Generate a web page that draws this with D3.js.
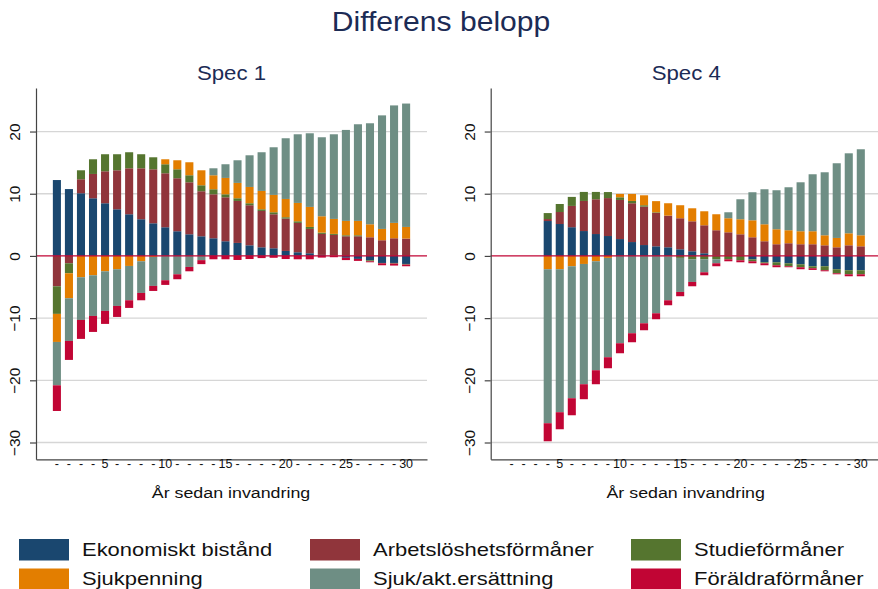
<!DOCTYPE html>
<html>
<head>
<meta charset="utf-8">
<script src="https://cdn.jsdelivr.net/npm/d3@7/dist/d3.min.js"></script>
<style>
  html, body { margin: 0; padding: 0; background: #fff; }
  svg { display: block; font-family: "Liberation Sans", Arial, sans-serif; }
</style>
</head>
<body>
<svg id="chart" width="878" height="589"></svg>
<script>
// Years since immigration, 1..30
const years = d3.range(1, 31);

const seriesNames = [
  "Ekonomiskt bistånd",
  "Arbetslöshetsförmåner",
  "Studieförmåner",
  "Sjukpenning",
  "Sjuk/akt.ersättning",
  "Föräldraförmåner"
];
const seriesColors = ["#1a476f", "#90353b", "#55752f", "#e37e00", "#6e8e84", "#c10534"];

// Spec 1 — difference in amounts per benefit type
const spec1Ekonomiskt = [12.2, 10.75, 10.08, 9.27, 8.47, 7.5, 6.7, 5.9, 5.25, 4.61, 3.97, 3.48, 3.16, 2.84, 2.36, 2.09, 1.71, 1.39, 1.23, 0.8, 0.59, 0.43, 0.16, 0.05, -0.3, -0.48, -0.7, -1.13, -1.13, -1.29];
const spec1Arbetsloshet = [-4.88, -1.18, 2.25, 3.91, 5.14, 6.27, 7.39, 8.19, 8.68, 8.68, 8.52, 8.36, 7.24, 7.07, 7.07, 6.75, 6.44, 5.84, 5.47, 5.2, 4.72, 3.91, 3.38, 3.33, 3.16, 3.16, 3.0, 2.52, 2.84, 2.79];
const spec1Studie = [-4.44, -1.61, 1.44, 2.36, 2.74, 2.58, 2.58, 2.26, 1.93, 1.45, 1.44, 1.13, 0.96, 0.81, 0.48, 0.43, 0.32, 0.27, 0.32, 0.22, 0.26, 0.32, 0.21, 0.16, 0.16, 0.16, -0.16, -0.05, -0.1, -0.1];
const spec1Sjukpenning = [-4.51, -4.02, -3.43, -3.11, -2.47, -2.14, -1.61, -0.86, -0.16, 0.8, 1.45, 2.09, 2.41, 2.25, 2.63, 2.47, 2.62, 2.95, 2.79, 2.94, 2.95, 3.22, 2.63, 2.41, 2.31, 2.31, 2.09, 1.82, 2.47, 1.87];
const spec1SjukAkt = [-6.97, -6.86, -6.86, -6.54, -6.37, -5.9, -5.52, -5.09, -4.66, -3.91, -2.95, -1.77, -0.68, 1.12, 2.2, 3.64, 5.09, 6.22, 7.66, 9.76, 11.04, 11.84, 12.7, 13.61, 14.63, 15.54, 16.24, 18.26, 18.89, 19.84];
const spec1Foraldra = [-4.13, -3.05, -3.05, -2.57, -2.09, -1.77, -1.23, -1.18, -0.81, -0.75, -0.8, -0.7, -0.64, -0.54, -0.54, -0.65, -0.5, -0.35, -0.3, -0.5, -0.54, -0.54, -0.27, -0.21, -0.37, -0.32, -0.16, -0.32, -0.32, -0.27];

// Spec 4 — no estimates for years 1–3
const spec4Ekonomiskt = [null, null, null, 5.61, 5.13, 4.62, 4.0, 3.52, 3.2, 2.71, 2.23, 1.75, 1.55, 1.39, 1.07, 0.75, 0.43, 0.1, 0, 0, -0.54, -1.02, -1.02, -1.18, -1.34, -1.66, -1.66, -2.14, -2.3, -2.3];
const spec4Arbetsloshet = [null, null, null, 0.32, 1.93, 3.42, 4.84, 5.59, 6.1, 6.29, 6.24, 6.18, 5.36, 5.09, 4.99, 4.82, 4.5, 4.03, 3.8, 3.48, 3.0, 2.36, 1.88, 2.04, 1.88, 1.88, 1.71, 1.39, 1.71, 1.55];
const spec4Studie = [null, null, null, 0.96, 1.29, 1.45, 1.45, 1.18, 0.97, 0.43, 0.37, 0.22, 0.1, -0.1, -0.32, -0.54, -0.54, -0.54, -0.54, -0.7, -0.32, -0.16, -0.48, -0.48, -0.48, -0.32, -0.64, -0.65, -0.65, -0.65];
const spec4Sjukpenning = [null, null, null, -2.14, -2.14, -1.66, -1.29, -0.86, -0.32, 0.54, 1.13, 1.6, 1.8, 1.99, 2.09, 2.09, 2.25, 2.57, 2.26, 2.42, 2.73, 2.73, 2.41, 2.09, 2.09, 2.09, 1.61, 1.5, 1.93, 1.77];
const spec4SjukAkt = [null, null, null, -24.76, -22.99, -21.22, -19.34, -17.52, -15.97, -14.04, -12.43, -10.83, -9.22, -7.03, -5.47, -3.64, -2.09, -0.64, 0.96, 3.21, 4.51, 5.63, 6.27, 6.91, 7.87, 9.16, 10.13, 12.01, 12.86, 13.83];
const spec4Foraldra = [null, null, null, -2.9, -2.74, -2.74, -2.41, -2.25, -1.77, -1.61, -1.45, -1.12, -0.96, -0.8, -0.69, -0.7, -0.48, -0.48, -0.32, -0.32, -0.32, -0.32, -0.32, -0.16, -0.32, -0.27, -0.17, -0.16, -0.32, -0.32];

const yTicks = [-30, -20, -10, 0, 10, 20];

const panels = [
  { title: "Spec 1", left: 36, series: [spec1Ekonomiskt, spec1Arbetsloshet, spec1Studie, spec1Sjukpenning, spec1SjukAkt, spec1Foraldra] },
  { title: "Spec 4", left: 490.7, series: [spec4Ekonomiskt, spec4Arbetsloshet, spec4Studie, spec4Sjukpenning, spec4SjukAkt, spec4Foraldra] }
];

const svg = d3.select("#chart");
const navy = "#1c2b55";
const plotW = 391, plotTop = 88, plotBottom = 459.3;

// the text face is drawn slightly wide
svg.append("text")
  .attr("transform", "translate(441,31) scale(1.075,1)")
  .attr("text-anchor", "middle")
  .attr("font-size", 28)
  .attr("fill", navy)
  .text("Differens belopp");

const y = d3.scaleLinear().domain([-32.7, 27]).range([plotBottom, plotTop]);

panels.forEach(p => {
  const g = svg.append("g");
  const x = d3.scaleBand()
    .domain(years)
    .range([p.left, p.left + plotW])
    .paddingInner(0.33)
    .paddingOuter(1.4);

  // one row per year, one column per benefit type
  const rows = years.map((yr, i) => {
    const r = { year: yr };
    seriesNames.forEach((name, k) => { r[name] = p.series[k][i] ?? 0; });
    return r;
  });
  const stacked = d3.stack()
    .keys(seriesNames)
    .offset(d3.stackOffsetDiverging)(rows);

  // gridlines
  g.append("g").selectAll("line")
    .data(yTicks.filter(t => t !== 0))
    .join("line")
    .attr("x1", p.left).attr("x2", p.left + plotW)
    .attr("y1", d => y(d)).attr("y2", d => y(d))
    .attr("stroke", "#d6d6d6").attr("stroke-width", 1.3);

  // bars
  g.append("g").selectAll("g")
    .data(stacked)
    .join("g")
    .attr("fill", (d, i) => seriesColors[i])
    .selectAll("rect")
    .data(d => d)
    .join("rect")
    .attr("x", d => x(d.data.year))
    .attr("width", x.bandwidth())
    .attr("y", d => y(Math.max(d[0], d[1])))
    .attr("height", d => Math.abs(y(d[0]) - y(d[1])));

  // zero reference line
  g.append("line")
    .attr("x1", p.left).attr("x2", p.left + plotW)
    .attr("y1", y(0)).attr("y2", y(0))
    .attr("stroke", "#c10534").attr("stroke-width", 1.3);

  // y axis
  const yAxis = g.append("g")
    .attr("transform", `translate(${p.left},0)`)
    .call(d3.axisLeft(y).tickValues(yTicks).tickSize(6).tickSizeOuter(0).tickFormat(d3.format("d")));
  yAxis.select(".domain").attr("stroke", "#444").attr("stroke-width", 1.2);
  yAxis.selectAll(".tick line").attr("stroke", "#444").attr("stroke-width", 1.2);
  yAxis.selectAll(".tick text")
    .attr("font-size", 15.5)
    .attr("fill", "#111")
    .attr("x", 0).attr("dy", 0)
    .attr("text-anchor", "middle")
    .attr("transform", "translate(-21.5,0) rotate(-90)")
    .attr("dominant-baseline", "central");

  // x axis
  const xAxis = g.append("g")
    .attr("transform", `translate(0,${plotBottom})`)
    .call(d3.axisBottom(x).tickSize(0).tickSizeOuter(0).tickPadding(0)
      .tickFormat(d => d % 5 === 0 ? d : "-"));
  xAxis.select(".domain").attr("stroke", "#444").attr("stroke-width", 1.2);
  xAxis.selectAll(".tick text")
    .attr("font-size", 12.5)
    .attr("fill", "#111")
    .attr("dy", "0.7em");

  // panel title and axis title
  g.append("text")
    .attr("transform", `translate(${p.left + plotW / 2},80) scale(1.11,1)`)
    .attr("text-anchor", "middle")
    .attr("font-size", 20)
    .attr("fill", navy)
    .text(p.title);
  g.append("text")
    .attr("transform", `translate(${p.left + plotW / 2 - 0.5},497.5) scale(1.15,1)`)
    .attr("text-anchor", "middle")
    .attr("font-size", 15.5)
    .attr("fill", "#111")
    .text("År sedan invandring");
});

// legend: 3 columns x 2 rows
const legendCols = [19, 310, 631];
const legendRows = [539, 568.5];
const legend = svg.append("g").selectAll("g")
  .data(seriesNames)
  .join("g")
  .attr("transform", (d, i) => `translate(${legendCols[i % 3]},${legendRows[Math.floor(i / 3)]})`);
legend.append("rect")
  .attr("width", 50).attr("height", 21.5)
  .attr("fill", (d, i) => seriesColors[i]);
legend.append("text")
  .attr("transform", "translate(63,10.5) scale(1.22,1)")
  .attr("dominant-baseline", "central")
  .attr("font-size", 18)
  .attr("fill", "#111")
  .text(d => d);
</script>
</body>
</html>
